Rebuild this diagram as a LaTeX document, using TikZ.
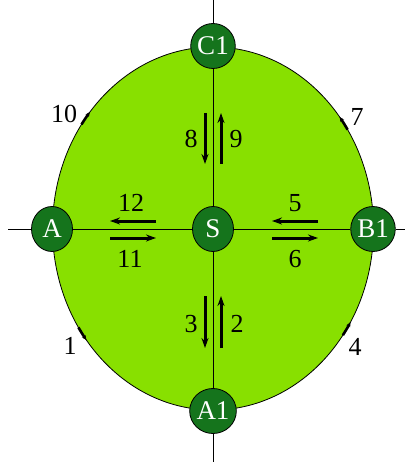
\documentclass[tikz,border=0pt]{standalone}
\usepackage{fontspec}
\setmainfont{Liberation Serif}
\newfontfamily\tms{Liberation Serif}
\usetikzlibrary{shapes.geometric,arrows.meta}
\definecolor{lightg}{HTML}{88E000}
\definecolor{darkg}{HTML}{15741C}
\begin{document}
\begin{tikzpicture}[x=1pt,y=-1pt,
  station/.style={ellipse,draw=black,line width=0.8pt,fill=darkg,text=white,minimum width=41pt,minimum height=45pt,inner sep=0pt,font=\tms\fontsize{27}{29}\selectfont},
  lbl/.style={font=\tms\fontsize{26}{28}\selectfont,inner sep=0pt},
  flow/.style={line width=3pt,-{Stealth[length=10pt,width=7pt]}},
  tick/.style={line width=2.6pt,-{Stealth[length=5pt,width=4pt]}}]
\useasboundingbox (0,0) rectangle (409,462);
\fill[lightg] (213,228.5) ellipse [x radius=160.5pt, y radius=181.5pt];
\draw[line width=0.8pt] (213,228.5) ellipse [x radius=160.5pt, y radius=181.5pt];
\coordinate (L) at (8,229);
\coordinate (R) at (405,229);
\coordinate (T) at (213,0);
\coordinate (Bt) at (213,462);
\node[station] (A) at (52,229) {A};
\node[station] (B1) at (373,229) {B1};
\node[station] (C1) at (213,46) {C1};
\node[station] (A1) at (213,411) {A1};
\node[station] (S) at (213,229) {S};
\draw[line width=0.7pt] (L) -- (A) -- (S) -- (B1) -- (R);
\draw[line width=0.7pt] (T) -- (C1) -- (S) -- (A1) -- (Bt);
% flow arrows
\coordinate (a12s) at (156,221); \coordinate (a12e) at (110,221);
\coordinate (a11s) at (110,238); \coordinate (a11e) at (156,238);
\coordinate (a5s) at (318,221); \coordinate (a5e) at (272,221);
\coordinate (a6s) at (272,238); \coordinate (a6e) at (318,238);
\coordinate (a8s) at (205,113); \coordinate (a8e) at (205,164);
\coordinate (a9s) at (221,164); \coordinate (a9e) at (221,113);
\coordinate (a3s) at (205,296); \coordinate (a3e) at (205,348);
\coordinate (a2s) at (221,348); \coordinate (a2e) at (221,296);
\draw[flow] (a12s) -- (a12e);
\draw[flow] (a11s) -- (a11e);
\draw[flow] (a5s) -- (a5e);
\draw[flow] (a6s) -- (a6e);
\draw[flow] (a8s) -- (a8e);
\draw[flow] (a9s) -- (a9e);
\draw[flow] (a3s) -- (a3e);
\draw[flow] (a2s) -- (a2e);
\node[lbl] (l12) at (131,203) {12};
\node[lbl] (l11) at (130,259) {11};
\node[lbl] (l5) at (295,203) {5};
\node[lbl] (l6) at (295,259) {6};
\node[lbl] (l8) at (191,139) {8};
\node[lbl] (l9) at (236,139) {9};
\node[lbl] (l3) at (191,324) {3};
\node[lbl] (l2) at (237,324) {2};
\node[lbl] (l10) at (64,114) {10};
\node[lbl] (l7) at (357,117) {7};
\node[lbl] (l1) at (70,346) {1};
\node[lbl] (l4) at (355,347) {4};
% ticks on the ring
\draw[tick] ({213+160.5*cos(145)},{228.5-181.5*sin(145)}) arc[start angle=145, end angle=140, x radius=160.5pt, y radius=181.5pt];
\draw[tick] ({213+160.5*cos(33)},{228.5-181.5*sin(33)}) arc[start angle=33, end angle=38, x radius=160.5pt, y radius=181.5pt];
\draw[tick] ({213+160.5*cos(213)},{228.5-181.5*sin(213)}) arc[start angle=213, end angle=218, x radius=160.5pt, y radius=181.5pt];
\draw[tick] ({213+160.5*cos(-36)},{228.5-181.5*sin(-36)}) arc[start angle=-36, end angle=-31, x radius=160.5pt, y radius=181.5pt];
\end{tikzpicture}
\end{document}
